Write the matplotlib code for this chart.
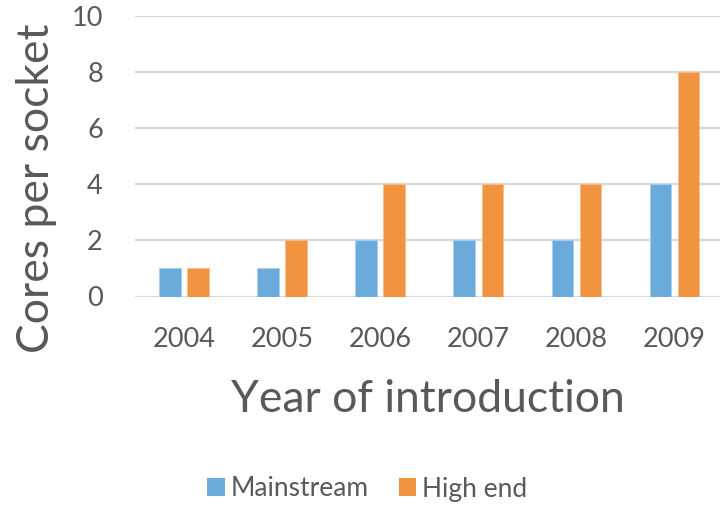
import matplotlib
matplotlib.use("Agg")
import matplotlib.pyplot as plt
import numpy as np
from matplotlib.patches import Patch

years = ["2004", "2005", "2006", "2007", "2008", "2009"]
mainstream = [1, 1, 2, 2, 2, 4]
high_end = [1, 2, 4, 4, 4, 8]
y_ticks = [0, 2, 4, 6, 8, 10]

BLUE = "#6AABDC"
ORANGE = "#F29340"
GRID = "#D9D9D9"
TEXT = "#595959"

plt.rcParams["font.family"] = ["Lato", "DejaVu Sans"]

W, H = 720, 505
fig = plt.figure(figsize=(W / 100, H / 100), dpi=100)

# plot area in pixels (left, top, right, bottom)
px_l, px_t, px_r, px_b = 134.9, 16.0, 723.5, 296.5
ax = fig.add_axes([px_l / W, 1 - px_b / H, (px_r - px_l) / W, (px_b - px_t) / H])

x = np.arange(len(years))
bw = 0.219
off = 0.143
ax.bar(x - off, mainstream, width=bw, color=BLUE, edgecolor="#A9CDEB", linewidth=0.6, zorder=3)
ax.bar(x + off, high_end, width=bw, color=ORANGE, edgecolor="#F7BE8E", linewidth=0.6, zorder=3)

ax.set_xlim(-0.5, len(years) - 0.5)
ax.set_ylim(0, 10)
ax.set_yticks(y_ticks)
ax.set_xticks(x)
ax.set_xticklabels(years)
for s in ax.spines.values():
    s.set_visible(False)
ax.yaxis.grid(True, color=GRID, linewidth=1.6, zorder=0)
ax.set_axisbelow(True)
ax.tick_params(axis="y", length=0, pad=23, labelsize=19.5, labelcolor=TEXT)
ax.tick_params(axis="x", length=0, pad=22, labelsize=19.5, labelcolor=TEXT)

fig.text(37 / W, 1 - 188.5 / H, "Cores per socket", rotation=90, ha="center", va="center",
         fontsize=32, color=TEXT)
fig.text(427.5 / W, 1 - 412 / H, "Year of introduction", ha="center", va="baseline",
         fontsize=32, color=TEXT)

handles = [Patch(facecolor=BLUE, edgecolor="none", label="Mainstream"),
           Patch(facecolor=ORANGE, edgecolor="none", label="High end")]
fig.legend(handles=handles, loc="center", bbox_to_anchor=(367.5 / W, 1 - 489 / H), ncol=2,
           frameon=False, fontsize=19, labelcolor=TEXT, handlelength=0.65, handleheight=0.65,
           handletextpad=0.23, columnspacing=1.15)

fig.savefig("out.png", dpi=100)
